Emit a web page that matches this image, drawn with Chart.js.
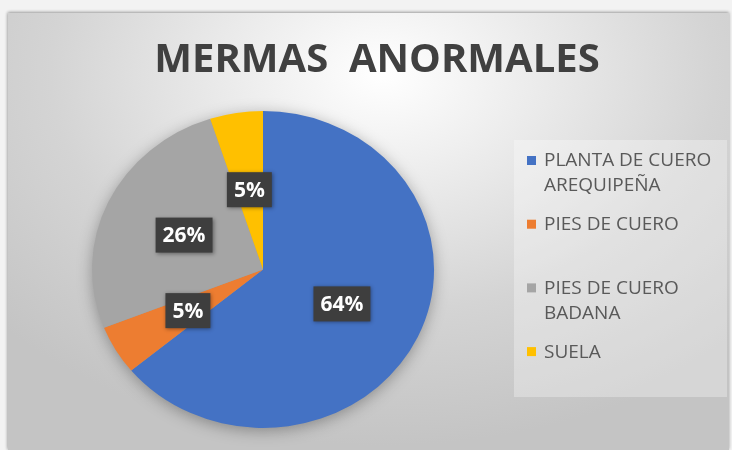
<!DOCTYPE html>
<html>
<head>
<meta charset="utf-8">
<script src="https://cdn.jsdelivr.net/npm/chart.js@4.4.1/dist/chart.umd.min.js"></script>
<style>
    body {
        margin: 0;
        width: 732px;
        height: 450px;
        overflow: hidden;
        position: relative;
        background: #f3f3f3;
    }
    #panel {
        position: absolute;
        left: 8px;
        top: 13px;
        width: 721px;
        height: 437px;
        background: radial-gradient(ellipse 72% 85% at 52% 14%, #ffffff 0%, #e9e9e9 33%, #d4d4d4 64%, #c4c4c4 100%);
        box-shadow: 0 -1px 3px rgba(0, 0, 0, 0.3), -1px 0 3px rgba(0, 0, 0, 0.15);
    }
    #grafico {
        position: absolute;
        left: 0;
        top: 0;
    }
</style>
</head>
<body>
<div id="panel"></div>
<canvas id="grafico" width="732" height="450"></canvas>

<script>
// Datos del gráfico
const titulo = 'MERMAS  ANORMALES';
const categorias = ['PLANTA DE CUERO AREQUIPEÑA', 'PIES DE CUERO', 'PIES DE CUERO BADANA', 'SUELA'];
const porcentajes = [64, 5, 26, 5];
const colores = ['#4472C4', '#ED7D31', '#A5A5A5', '#FFC000'];

// el pastel del original sale un poco achatado
const escalaX = 1.043;
const escalaY = 0.966;

// sombra suave bajo el pastel + escala elíptica
const sombraPastel = {
    id: 'sombraPastel',
    beforeDatasetsDraw(chart) {
        const arco = chart.getDatasetMeta(0).data[0];
        if (!arco) return;
        const p = arco.getProps(['x', 'y', 'outerRadius'], true);
        const ctx = chart.ctx;
        ctx.save();
        ctx.translate(p.x, p.y);
        ctx.scale(escalaX, escalaY);
        ctx.translate(-p.x, -p.y);
        ctx.save();
        ctx.shadowColor = 'rgba(0,0,0,0.35)';
        ctx.shadowBlur = 16;
        ctx.shadowOffsetY = 3;
        ctx.fillStyle = '#9a9a9a';
        ctx.beginPath();
        ctx.arc(p.x, p.y, p.outerRadius - 1, 0, Math.PI * 2);
        ctx.fill();
        ctx.restore();
    },
    afterDatasetsDraw(chart) {
        chart.ctx.restore();
    }
};

// etiquetas de porcentaje en cajas oscuras
const etiquetas = {
    id: 'etiquetas',
    afterDatasetsDraw(chart) {
        const ctx = chart.ctx;
        const datos = chart.data.datasets[0].data;
        const total = datos.reduce((a, b) => a + b, 0);
        ctx.save();
        ctx.font = 'bold 21px "Open Sans"';
        ctx.textAlign = 'center';
        ctx.textBaseline = 'middle';
        chart.getDatasetMeta(0).data.forEach((arco, i) => {
            const p = arco.getProps(['x', 'y', 'startAngle', 'endAngle', 'outerRadius'], true);
            const medio = (p.startAngle + p.endAngle) / 2;
            const px = p.x + Math.cos(medio) * p.outerRadius * 0.51 * escalaX;
            const py = p.y + Math.sin(medio) * p.outerRadius * 0.51 * escalaY;
            const texto = Math.round(datos[i] / total * 100) + '%';
            const ancho = ctx.measureText(texto).width + 14;
            const alto = 35;
            ctx.save();
            ctx.shadowColor = 'rgba(0,0,0,0.4)';
            ctx.shadowBlur = 4;
            ctx.shadowOffsetX = 1;
            ctx.shadowOffsetY = 1;
            ctx.fillStyle = '#3e3e3e';
            ctx.fillRect(px - ancho / 2, py - alto / 2, ancho, alto);
            ctx.restore();
            ctx.fillStyle = '#ffffff';
            ctx.fillText(texto, px, py + 1);
        });
        ctx.restore();
    }
};

// título y leyenda dibujados a mano
const tituloLeyenda = {
    id: 'tituloLeyenda',
    afterDraw(chart) {
        const ctx = chart.ctx;
        ctx.save();
        ctx.fillStyle = '#404040';
        ctx.font = 'bold 40px "Open Sans"';
        ctx.textAlign = 'center';
        ctx.textBaseline = 'alphabetic';
        ctx.fillText(titulo, 377, 72);

        // caja de la leyenda
        ctx.fillStyle = 'rgba(255,255,255,0.3)';
        ctx.fillRect(514, 140, 213, 257);

        ctx.font = '19px "Open Sans"';
        ctx.textAlign = 'left';
        ctx.textBaseline = 'middle';
        const maxAncho = 178;
        chart.data.labels.forEach((nombre, i) => {
            const y0 = 161 + i * 63.7;
            ctx.fillStyle = chart.data.datasets[0].backgroundColor[i];
            ctx.fillRect(527, y0 - 5, 9, 9);
            // partir el texto en líneas
            const palabras = nombre.split(' ');
            const lineas = [];
            let linea = '';
            palabras.forEach(w => {
                const prueba = linea ? linea + ' ' + w : w;
                if (ctx.measureText(prueba).width > maxAncho && linea) {
                    lineas.push(linea);
                    linea = w;
                } else {
                    linea = prueba;
                }
            });
            lineas.push(linea);
            ctx.fillStyle = '#595959';
            lineas.forEach((l, j) => ctx.fillText(l, 544, y0 + j * 25));
        });
        ctx.restore();
    }
};

new Chart(document.getElementById('grafico').getContext('2d'), {
    type: 'pie',
    data: {
        labels: categorias,
        datasets: [{
            data: porcentajes,
            backgroundColor: colores,
            borderWidth: 0
        }]
    },
    options: {
        responsive: false,
        animation: false,
        layout: {
            padding: { left: 99, right: 305, top: 105, bottom: 16 }
        },
        plugins: {
            legend: { display: false },
            title: { display: false },
            tooltip: { enabled: false }
        }
    },
    plugins: [sombraPastel, etiquetas, tituloLeyenda]
});
</script>
</body>
</html>
